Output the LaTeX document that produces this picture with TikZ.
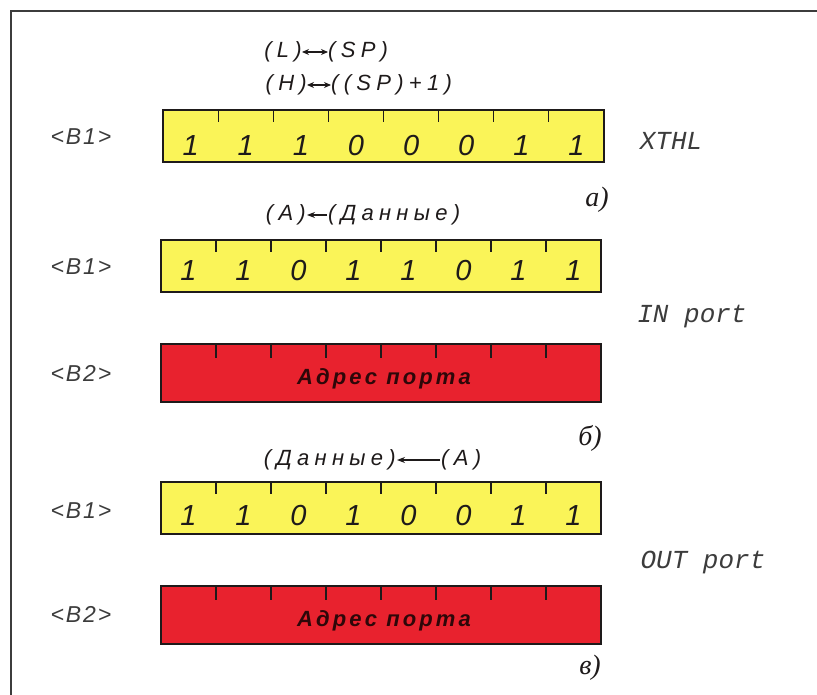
\documentclass[tikz,border=0pt]{standalone}
\usepackage{fontspec}
\setmainfont{Liberation Sans}
\newfontfamily\lblfont[LetterSpace=24]{Liberation Sans}
\newfontfamily\regfont[LetterSpace=8]{Liberation Sans}
\newfontfamily\addrfont[LetterSpace=14]{Liberation Sans}
\newfontfamily\monofont{Liberation Mono}
\newfontfamily\serifit{Liberation Serif}
\usetikzlibrary{arrows.meta}
\definecolor{regyellow}{RGB}{250,244,88}
\definecolor{regred}{RGB}{232,34,46}
\definecolor{inkdark}{RGB}{30,26,26}
\definecolor{inkgray}{RGB}{60,60,60}
\tikzset{
  regbox/.style={draw=inkdark, line width=1.8pt, inner sep=0pt, outer sep=0pt},
  yellowbox/.style={regbox, fill=regyellow, minimum height=52pt},
  redbox/.style={regbox, fill=regred, minimum height=58pt},
  tickmark/.style={draw=inkdark, line width=1.2pt},
  digit/.style={font=\fontsize{29}{29}\selectfont\itshape, text=inkdark, inner sep=0pt},
  reglabel/.style={font=\regfont\fontsize{23}{23}\selectfont\itshape, text=inkgray, inner sep=0pt},
  oplabel/.style={font=\lblfont\fontsize{22}{22}\selectfont\itshape, text=inkdark, inner sep=0pt},
  mnemonic/.style={font=\monofont\fontsize{26}{26}\selectfont\itshape, text=inkgray, inner sep=0pt},
  sublabel/.style={font=\serifit\fontsize{28}{28}\selectfont\itshape, text=inkdark, inner sep=0pt},
  addrtext/.style={font=\addrfont\fontsize{22}{22}\selectfont\bfseries\itshape, text=black!80!regred, inner sep=0pt},
  xfer/.style={-{Stealth[length=8pt,width=6pt]}, draw=inkdark, line width=1.1pt, shorten >=1pt, shorten <=1pt},
  xfertwo/.style={{Stealth[length=7pt,width=6pt]}-{Stealth[length=7pt,width=6pt]}, draw=inkdark, line width=1.1pt, shorten >=0pt, shorten <=0pt},
  framerule/.style={draw=inkgray, line width=1.5pt}
}
\begin{document}
\begin{tikzpicture}[x=1pt,y=-1pt]
\useasboundingbox (0,0) rectangle (817,695);
% page frame
\draw[framerule] (817,11) -- (11,11) -- (11,695);

% ---------- a) XTHL ----------
\node[oplabel, anchor=east] (aL) at (302,52) {(L)};
\node[oplabel, anchor=west] (aSP) at (328,52) {(SP)};
\draw[xfertwo] (aL.east) -- (aSP.west);
\node[oplabel, anchor=east] (aH) at (307,85) {(H)};
\node[oplabel, anchor=west] (aSP1) at (331,85) {((SP)+1)};
\draw[xfertwo] (aH.east) -- (aSP1.west);

\node[yellowbox, minimum width=441pt] (boxA) at (383.5,136) {};
\foreach \i in {1,...,7} \draw[tickmark] ([xshift=\i*55.125pt]boxA.north west) -- ++(0,12);
\foreach \d [count=\i] in {1,1,1,0,0,0,1,1}
  \node[digit] (ad\i) at (163+\i*55.125-27.56,146) {\d};
\node[reglabel] (aB1) at (81,137) {<B1>};
\node[mnemonic] (aop) at (671,141) {XTHL};
\node[sublabel] (asub) at (597,200) {а)};

% ---------- b) IN port ----------
\node[oplabel, anchor=east] (bA) at (306,215) {(A)};
\node[oplabel, anchor=west] (bData) at (328,215) {(Данные)};
\draw[xfer] (bData.west) -- (bA.east);

\node[yellowbox, minimum width=440pt] (boxB1) at (381,266) {};
\foreach \i in {1,...,7} \draw[tickmark] ([xshift=\i*55pt]boxB1.north west) -- ++(0,12);
\foreach \d [count=\i] in {1,1,0,1,1,0,1,1}
  \node[digit] (bd\i) at (161+\i*55-27.5,271) {\d};
\node[reglabel] (bB1) at (81,267) {<B1>};

\node[redbox, minimum width=440pt] (boxB2) at (381,373) {};
\foreach \i in {1,...,7} \draw[tickmark] ([xshift=\i*55pt]boxB2.north west) -- ++(0,14);
\node[addrtext] (baddr) at (384,379) {Адрес порта};
\node[reglabel] (bB2) at (81,373) {<B2>};
\node[mnemonic] (bop) at (692,317) {IN port};
\node[sublabel] (bsub) at (590,438) {б)};

% ---------- c) OUT port ----------
\node[oplabel, anchor=east] (cData) at (396,460) {(Данные)};
\node[oplabel, anchor=west] (cA) at (441,460) {(A)};
\draw[xfer] (cA.west) -- (cData.east);

\node[yellowbox, minimum width=440pt] (boxC1) at (381,508) {};
\foreach \i in {1,...,7} \draw[tickmark] ([xshift=\i*55pt]boxC1.north west) -- ++(0,12);
\foreach \d [count=\i] in {1,1,0,1,0,0,1,1}
  \node[digit] (cd\i) at (161+\i*55-27.5,516) {\d};
\node[reglabel] (cB1) at (81,511) {<B1>};

\node[redbox, minimum width=440pt] (boxC2) at (381,615) {};
\foreach \i in {1,...,7} \draw[tickmark] ([xshift=\i*55pt]boxC2.north west) -- ++(0,14);
\node[addrtext] (caddr) at (384,621) {Адрес порта};
\node[reglabel] (cB2) at (81,614) {<B2>};
\node[mnemonic] (cop) at (703,562) {OUT port};
\node[sublabel] (csub) at (590,668) {в)};
\end{tikzpicture}
\end{document}
